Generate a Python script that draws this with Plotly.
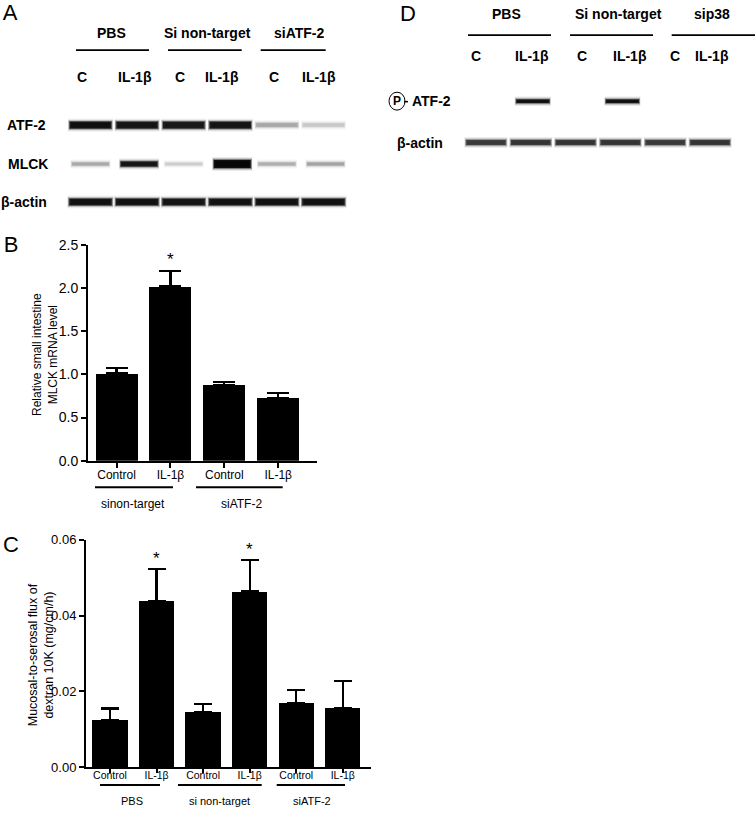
import plotly.graph_objects as go

W, H = 756, 820

# ---------------- data ----------------
b_categories = ["Control", "IL-1β", "Control", "IL-1β"]
b_groups = ["sinon-target", "siATF-2"]
b_values = [1.01, 2.02, 0.88, 0.73]
b_errors = [0.06, 0.17, 0.035, 0.05]
b_star = [False, True, False, False]
b_ticks = [0.0, 0.5, 1.0, 1.5, 2.0, 2.5]

c_categories = ["Control", "IL-1β", "Control", "IL-1β", "Control", "IL-1β"]
c_groups = ["PBS", "si non-target", "siATF-2"]
c_values = [0.0124, 0.0438, 0.0146, 0.0464, 0.0170, 0.0157]
c_errors = [0.0031, 0.0084, 0.0021, 0.0082, 0.0033, 0.0070]
c_star = [False, True, False, True, False, False]
c_ticks = [0.0, 0.02, 0.04, 0.06]

# western blot panel A (relative band intensities 0..1)
a_groups = ["PBS", "Si non-target", "siATF-2"]
a_lanes = ["C", "IL-1β", "C", "IL-1β", "C", "IL-1β"]
a_rows = ["ATF-2", "MLCK", "β-actin"]
a_atf2 = [0.97, 0.95, 0.93, 0.95, 0.35, 0.22]
a_mlck = [0.35, 0.95, 0.2, 1.0, 0.33, 0.38]
a_actin = [0.96, 0.96, 0.95, 0.96, 0.96, 0.96]

# western blot panel D
d_groups = ["PBS", "Si non-target", "sip38"]
d_lanes = ["C", "IL-1β", "C", "IL-1β", "C", "IL-1β"]
d_rows = ["ATF-2", "β-actin"]
d_patf2 = [0.0, 0.97, 0.0, 0.97, 0.0, 0.0]
d_actin = [0.8, 0.82, 0.82, 0.82, 0.8, 0.82]

panel_letters = ["A", "B", "C", "D"]

FONT = "Liberation Sans, Arial, sans-serif"

# vertical calibration of the page photograph
def Y(y):
    return (y - 6.1) / 0.983

def px_y(y):
    return 1 - Y(y) / H

fig = go.Figure()

# ---------------- bar chart B ----------------
fig.add_trace(go.Bar(
    x=list(range(len(b_values))), y=b_values, width=0.78,
    marker=dict(color="black", line=dict(width=0)),
    error_y=dict(type="data", array=b_errors, arrayminus=[0]*len(b_errors),
                 symmetric=False, color="black", thickness=2.2, width=11),
    xaxis="x", yaxis="y", showlegend=False, hoverinfo="skip"))

# ---------------- bar chart C ----------------
fig.add_trace(go.Bar(
    x=list(range(len(c_values))), y=c_values, width=0.76,
    marker=dict(color="black", line=dict(width=0)),
    error_y=dict(type="data", array=c_errors, arrayminus=[0]*len(c_errors),
                 symmetric=False, color="black", thickness=2.2, width=9),
    xaxis="x2", yaxis="y2", showlegend=False, hoverinfo="skip"))

ann = []

# stars
for i, s in enumerate(b_star):
    if s:
        ann.append(dict(x=i, y=b_values[i] + b_errors[i], xref="x", yref="y",
                        text="*", showarrow=False, yshift=12,
                        font=dict(family=FONT, size=17, color="black")))
for i, s in enumerate(c_star):
    if s:
        ann.append(dict(x=i, y=c_values[i] + c_errors[i], xref="x2", yref="y2",
                        text="*", showarrow=False, yshift=11,
                        font=dict(family=FONT, size=17, color="black")))

# ---------------- blots (overlay pixel axis x3/y3) ----------------
def band(xc, half, y, thick, inten):
    if inten <= 0:
        return
    g = int(255 * (1 - 0.97 * inten))
    col = f"rgb({g},{g},{g})"
    layers = [
        (1.00, thick + 6, 0.08),
        (0.985, thick + 3.5, 0.2),
        (0.96, thick + 1.5, 0.45),
        (0.92, thick, 0.9),
        (0.85, max(thick - 2, 1), 1.0),
    ]
    for f, w, a in layers:
        fig.add_trace(go.Scatter(
            x=[xc - half * f, xc + half * f], y=[Y(y), Y(y)], mode="lines",
            line=dict(color=col, width=w), opacity=a,
            xaxis="x3", yaxis="y3", showlegend=False, hoverinfo="skip"))

A_X0, A_DX = 90.5, 46.6
for i, v in enumerate(a_atf2):
    band(A_X0 + i * A_DX, 22.5, 123.5, 7.0 * (0.35 + 0.65 * v), v)
for i, v in enumerate(a_mlck):
    band(A_X0 + i * A_DX + (2 if i % 2 else 0), 20, 162.5,
         5.0 * (0.4 + 0.6 * v) + (3 if i == 3 else 0), v)
for i, v in enumerate(a_actin):
    band(A_X0 + i * A_DX, 23, 200.5, 6.5, v)

D_X0, D_DX = 486, 44.8
for i, v in enumerate(d_patf2):
    band(D_X0 + i * D_DX + 2, 18, 99.5, 3.5, v)
for i, v in enumerate(d_actin):
    band(D_X0 + i * D_DX, 21.5, 141, 5.0, v)

# panel letters
fig.add_trace(go.Scatter(
    x=[10, 11, 11, 408], y=[Y(13), Y(245), Y(546), Y(14)], mode="text",
    text=panel_letters, textfont=dict(family=FONT, size=22, color="black"),
    textposition="middle center", cliponaxis=False,
    xaxis="x3", yaxis="y3", showlegend=False, hoverinfo="skip"))

def T(x, y, text, size=14, bold=True, xanchor="center", angle=0):
    ann.append(dict(x=x, y=Y(y), xref="x3", yref="y3", text=(f"<b>{text}</b>" if bold else text),
                    showarrow=False, xanchor=xanchor, yanchor="middle", textangle=angle,
                    font=dict(family=FONT, size=size, color="black")))

# panel A labels
for x, g in zip([111.7, 207, 299], a_groups):
    T(x, 31.5, g)
for x, l in zip([82.3, 135, 180, 221.7, 274, 319], a_lanes):
    T(x, 75, l)
for (x, y), r in zip([(26, 123.5), (28, 162.5), (24, 200.5)], a_rows):
    T(x, y, r)

# panel D labels
for x, g in zip([506.7, 618, 711.7], d_groups):
    T(x, 11.7, g)
for x, l in zip([476, 531.7, 581.7, 630, 675, 712], d_lanes):
    T(x, 54.3, l)
T(410, 99.5, d_rows[0], xanchor="left")
T(420, 141, d_rows[1])
T(396.5, 99.5, "P", 12)

# bar chart group labels
for x, g in zip([132.7, 241.7], b_groups):
    T(x, 503, g, 12, bold=False)
for x, g in zip([131.7, 219, 311.7], c_groups):
    T(x, 801.5, g, 11, bold=False)

# y-axis titles
T(45, 354, "Relative small intestine<br>MLCK mRNA level", 12, bold=False, angle=-90)
T(41, 655, "Mucosal-to-serosal flux of<br>dextran 10K (mg/cm/h)", 12.5, bold=False, angle=-90)

shapes = []
def L(x0, x1, y, w=1.6):
    shapes.append(dict(type="line", xref="x3", yref="y3", x0=x0, x1=x1, y0=Y(y), y1=Y(y),
                       line=dict(color="black", width=w)))
for x0, x1 in [(76, 149), (168, 241.7), (260.7, 325.7)]:
    L(x0, x1, 48.3)
for x0, x1 in [(468, 551), (570, 653), (671.7, 755)]:
    L(x0, x1, 33.3)
for x0, x1 in [(95, 173), (196, 282.7)]:
    L(x0, x1, 486.7, 2)
for x0, x1 in [(100, 160), (178, 261.7), (276.7, 345)]:
    L(x0, x1, 785, 2)
shapes.append(dict(type="circle", xref="x3", yref="y3", x0=389, x1=405, y0=Y(90.5), y1=Y(108.5),
                   line=dict(color="black", width=1)))
shapes.append(dict(type="line", xref="x3", yref="y3", x0=404, x1=408, y0=Y(100), y1=Y(100),
                   line=dict(color="black", width=1.5)))

axis_common = dict(showgrid=False, zeroline=False, showline=True, linecolor="black",
                   linewidth=2, ticks="outside", tickwidth=2, tickcolor="black")

fig.update_layout(
    width=W, height=H, margin=dict(l=0, r=0, t=0, b=0),
    paper_bgcolor="white", plot_bgcolor="rgba(0,0,0,0)",
    font=dict(family=FONT, color="black"),
    xaxis=dict(domain=[88 / W, 317 / W], range=[-0.53, 3.72], tickmode="array",
               tickvals=list(range(len(b_categories))), ticktext=b_categories,
               tickfont=dict(size=12), ticklen=5, ticklabelstandoff=-3,
               anchor="y", **axis_common),
    yaxis=dict(domain=[px_y(460), px_y(243.3)], range=[0, 2.5], tickmode="array",
               tickvals=b_ticks, ticktext=[f"{t:.1f}" for t in b_ticks],
               tickfont=dict(size=14), ticklen=5, anchor="x", **axis_common),
    xaxis2=dict(domain=[86 / W, 370.7 / W], range=[-0.516, 5.6], tickmode="array",
                tickvals=list(range(len(c_categories))), ticktext=c_categories,
                tickfont=dict(size=10.5), ticklen=4, ticklabelstandoff=-7,
                anchor="y2", **axis_common),
    yaxis2=dict(domain=[px_y(767.3), px_y(539.3)], range=[0, 0.06], tickmode="array",
                tickvals=c_ticks, ticktext=[f"{t:.2f}" for t in c_ticks],
                tickfont=dict(size=13), ticklen=5, anchor="x2", **axis_common),
    xaxis3=dict(domain=[0, 1], range=[0, W], visible=False, anchor="y3", fixedrange=True),
    yaxis3=dict(domain=[0, 1], range=[H, 0], visible=False, anchor="x3", fixedrange=True),
    annotations=ann, shapes=shapes, bargap=0,
)

fig.write_html("out.html", config={"displayModeBar": False},
               post_script="document.body.style.margin='0';document.body.style.overflow='hidden';")
